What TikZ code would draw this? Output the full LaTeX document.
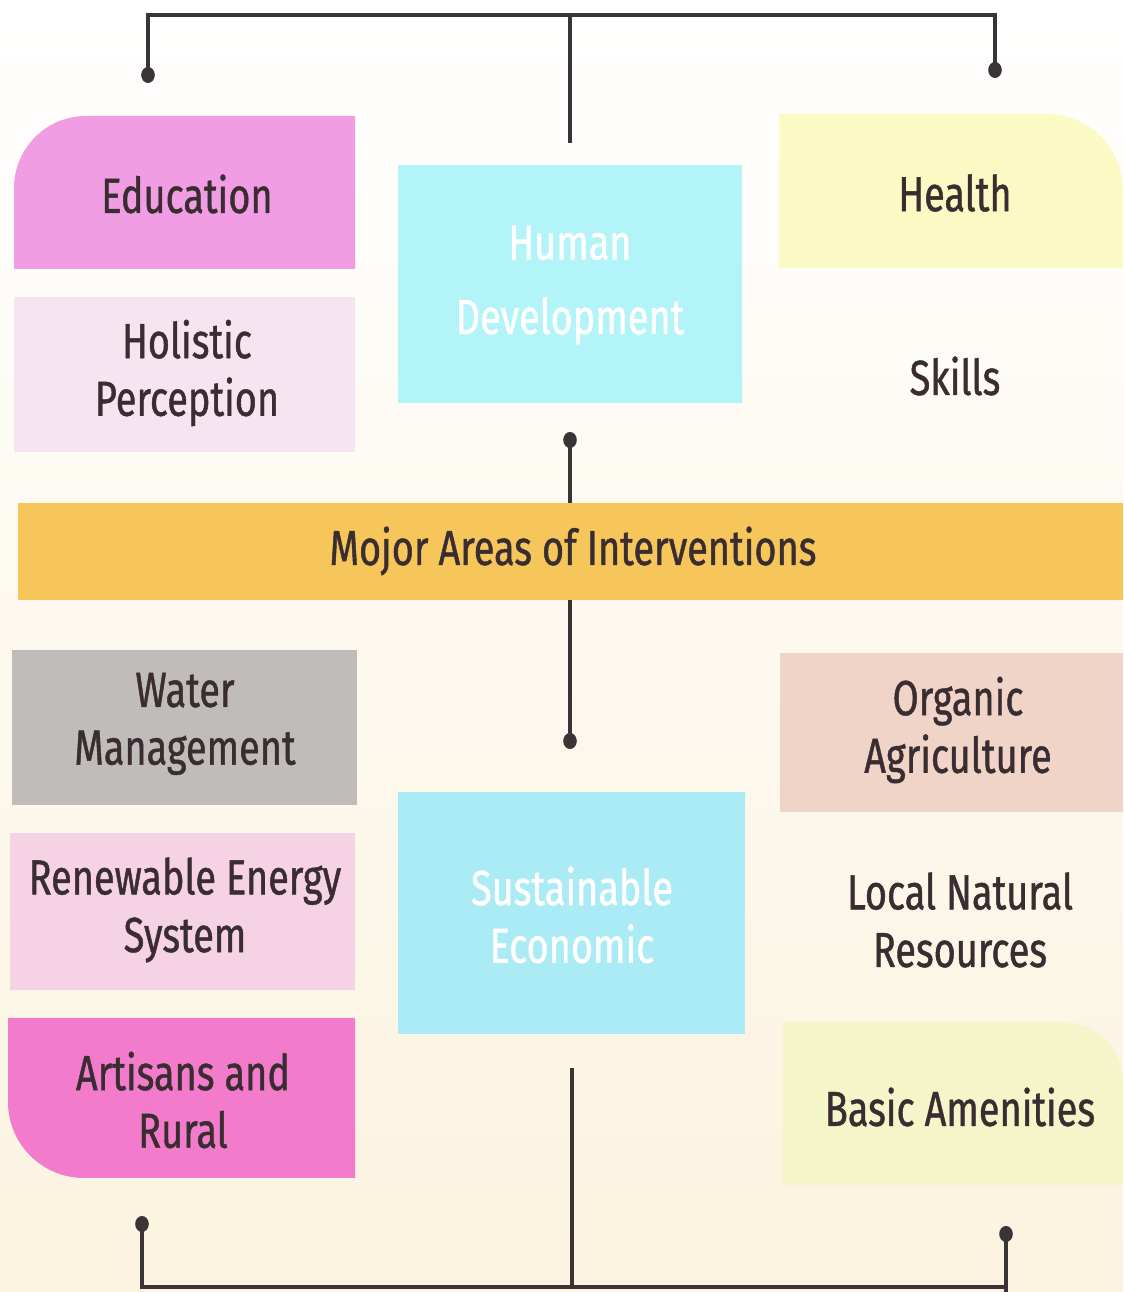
\documentclass[tikz,border=0pt]{standalone}
\usepackage{fontspec}
\setmainfont{Fira Sans}[FakeStretch=0.77, FakeBold=0.9]
\usetikzlibrary{calc}

\definecolor{inkdark}{HTML}{3A2D31}
\definecolor{linedark}{HTML}{3A3436}
\definecolor{cream}{HTML}{FBF3DF}
\definecolor{edupink}{HTML}{F19DE4}
\definecolor{holpink}{HTML}{F7E4F1}
\definecolor{humcyan}{HTML}{B2F4F8}
\definecolor{healthyel}{HTML}{FBFAC4}
\definecolor{bannerorg}{HTML}{F7C65B}
\definecolor{watergray}{HTML}{BFBCB9}
\definecolor{renpink}{HTML}{F6D3E4}
\definecolor{artpink}{HTML}{F27CCB}
\definecolor{suscyan}{HTML}{AAEBF6}
\definecolor{orgbeige}{HTML}{EFD4C7}
\definecolor{basicyel}{HTML}{F5F5CA}

\tikzset{
  boxtext/.style={text=inkdark, align=center, font=\fontsize{35}{41}\selectfont},
  whitetext/.style={text=white, align=center, font=\fontsize{35}{41}\selectfont},
  link/.style={draw=linedark, line width=2.2pt},
}

\begin{document}
\begin{tikzpicture}[x=0.025cm,y=0.025cm]
            % Page and background
            \shade[top color=white, middle color=white, bottom color=cream] (0,0) rectangle (1123,1292);
            \useasboundingbox (0,0) rectangle (1123,1292);

            % Corners of the boxes
            \coordinate (EduSW) at (14,1023);   \coordinate (EduNE) at (355,1176);
            \coordinate (HolSW) at (14,840);    \coordinate (HolNE) at (355,995);
            \coordinate (HumSW) at (398,889);   \coordinate (HumNE) at (742,1127);
            \coordinate (HeaSW) at (779,1024);  \coordinate (HeaNE) at (1123,1178);
            \coordinate (BanSW) at (18,692);    \coordinate (BanNE) at (1123,789);
            \coordinate (WatSW) at (12,487);    \coordinate (WatNE) at (357,642);
            \coordinate (RenSW) at (10,302);    \coordinate (RenNE) at (355,459);
            \coordinate (ArtSW) at (8,114);     \coordinate (ArtNE) at (355,274);
            \coordinate (SusSW) at (398,258);   \coordinate (SusNE) at (745,500);
            \coordinate (OrgSW) at (780,480);   \coordinate (OrgNE) at (1123,639);
            \coordinate (BasSW) at (783,107);   \coordinate (BasNE) at (1123,270);

            % Draw the boxes
            \fill[edupink] (EduSW) [rounded corners=1.8cm] -- (EduSW |- EduNE) [sharp corners] -- (EduNE) -- (EduNE |- EduSW) -- cycle;
            \fill[holpink] (HolSW) rectangle (HolNE);
            \fill[humcyan] (HumSW) rectangle (HumNE);
            \fill[healthyel] (HeaSW) -- (HeaSW |- HeaNE) [rounded corners=1.9cm] -- (HeaNE) [sharp corners] -- (HeaNE |- HeaSW) -- cycle;
            \fill[bannerorg] (BanSW) rectangle (BanNE);
            \fill[watergray] (WatSW) rectangle (WatNE);
            \fill[renpink] (RenSW) rectangle (RenNE);
            \fill[artpink] (ArtSW |- ArtNE) [rounded corners=1.9cm] -- (ArtSW) [sharp corners] -- (ArtNE |- ArtSW) -- (ArtNE) -- cycle;
            \fill[suscyan] (SusSW) rectangle (SusNE);
            \fill[orgbeige] (OrgSW) rectangle (OrgNE);
            \fill[basicyel] (BasSW |- BasNE) -- (BasSW) -- (BasNE |- BasSW) [rounded corners=1.5cm] -- (BasNE) [sharp corners] -- cycle;

            % Labels
            \node[boxtext] (edu) at (187,1098) {Education};
            \node[boxtext] (hol) at (187,919) {Holistic\\Perception};
            \node[whitetext, font=\fontsize{35}{53}\selectfont] (hum) at (570,1007) {Human\\Development};
            \node[boxtext] (hea) at (955,1099) {Health};
            \node[boxtext] (ski) at (955,916) {Skills};
            \node[boxtext] (ban) at (573,741) {Mojor Areas of Interventions};
            \node[boxtext] (wat) at (185,568) {Water\\Management};
            \node[boxtext] (ren) at (185,382) {Renewable Energy\\System};
            \node[boxtext] (art) at (183,192) {Artisans and\\Rural};
            \node[whitetext] (sus) at (572,377) {Sustainable\\Economic};
            \node[boxtext] (org) at (958,562) {Organic\\Agriculture};
            \node[boxtext] (loc) at (960,372) {Local Natural\\Resources};
            \node[boxtext] (bas) at (960,185) {Basic Amenities};

            % Connector ends
            \coordinate (TopL) at (148,1217);
            \coordinate (TopR) at (995,1222);
            \coordinate (TopC) at (570,1277);
            \coordinate (HumTop) at (570,1149);
            \coordinate (MidUp) at (570,852);
            \coordinate (MidDown) at (570,551);
            \coordinate (BotC) at (572,224);
            \coordinate (BotL) at (142,68);
            \coordinate (BotR) at (1006,58);
            \coordinate (BotBase) at (572,5);

            % Draw the connectors
            \draw[link] (TopL) |- (TopC) -| (TopR);
            \draw[link] (TopC) -- (HumTop);
            \draw[link] (MidUp) -- (MidUp |- BanNE);
            \draw[link] (MidDown) -- (MidDown |- BanSW);
            \draw[link] (BotL) |- (BotBase) -| (BotR);
            \draw[link] (BotC) -- (BotBase);
            \draw[link] (BotR) -- (BotR |- 0,0);

            % Draw the dots
            \foreach \p in {TopL,TopR,MidUp,MidDown,BotL,BotR}
                \fill[linedark] (\p) ellipse (0.17cm and 0.2cm);
\end{tikzpicture}
\end{document}
